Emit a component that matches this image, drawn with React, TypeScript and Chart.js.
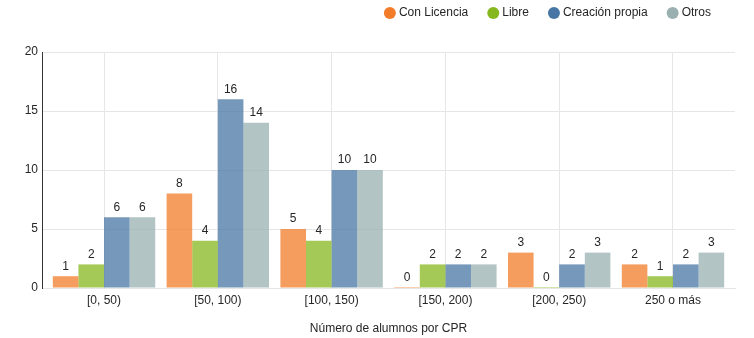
import { useEffect, useRef } from 'react';
import { Chart, registerables } from 'chart.js';

Chart.register(...registerables);

const categories = ['[0, 50)', '[50, 100)', '[100, 150)', '[150, 200)', '[200, 250)', '250 o más'];
const seriesNames = ['Con Licencia', 'Libre', 'Creación propia', 'Otros'];
const conLicencia = [1, 8, 5, 0, 3, 2];
const libre = [2, 4, 4, 2, 0, 1];
const creacionPropia = [6, 16, 10, 2, 2, 2];
const otros = [6, 14, 10, 2, 3, 3];
const yMax = 20;
const yStep = 5;
const xTitle = 'Número de alumnos por CPR';

const seriesColors = ['#f27c2a', '#86b71f', '#4876a4', '#9ab0b0'];
const FONT = 'Liberation Sans, Arial, sans-serif';
const TEXT = '#262626';
const GRID = '#e6e6e6';

function rgba(hex: string, a: number) {
  const n = parseInt(hex.slice(1), 16);
  return `rgba(${(n >> 16) & 255}, ${(n >> 8) & 255}, ${n & 255}, ${a})`;
}

const valueLabels = {
  id: 'valueLabels',
  afterDatasetsDraw(chart: any) {
    const ctx = chart.ctx;
    const yScale = chart.scales.y;
    ctx.save();
    ctx.font = `12px ${FONT}`;
    ctx.fillStyle = TEXT;
    ctx.textAlign = 'center';
    ctx.textBaseline = 'middle';
    chart.data.datasets.forEach((ds: any, i: number) => {
      const meta = chart.getDatasetMeta(i);
      meta.data.forEach((bar: any, j: number) => {
        const v = ds.data[j].y;
        ctx.fillText(String(v), bar.x, yScale.getPixelForValue(v) - 10);
      });
    });
    ctx.restore();
  },
};

const customLegend = {
  id: 'customLegend',
  afterDraw(chart: any) {
    const ctx = chart.ctx;
    ctx.save();
    ctx.font = `12px ${FONT}`;
    ctx.textBaseline = 'middle';
    ctx.textAlign = 'left';
    const y = 13;
    let right = 711;
    const items = chart.data.datasets.map((ds: any, i: number) => ({ label: ds.label, color: seriesColors[i] }));
    for (let k = items.length - 1; k >= 0; k--) {
      const it = items[k];
      const w = ctx.measureText(it.label).width;
      const textX = right - w;
      const cx = textX - 9;
      ctx.fillStyle = it.color;
      ctx.beginPath();
      ctx.arc(cx, y, 6, 0, Math.PI * 2);
      ctx.fill();
      ctx.fillStyle = TEXT;
      ctx.fillText(it.label, textX, y);
      right = cx - 25;
    }
    ctx.restore();
  },
};

export default function App() {
  const ref = useRef<HTMLCanvasElement | null>(null);

  useEffect(() => {
    if (!ref.current) return;
    const series = [conLicencia, libre, creacionPropia, otros];
    const chart = new Chart(ref.current, {
      type: 'bar',
      data: {
        datasets: series.map((vals, i) => ({
          label: seriesNames[i],
          data: vals.map((v, j) => ({ x: j, y: v })),
          backgroundColor: rgba(seriesColors[i], 0.75),
          borderWidth: 0,
          minBarLength: 1,
          categoryPercentage: 0.9,
          barPercentage: 1,
        })),
      },
      options: {
        responsive: false,
        animation: false,
        layout: { padding: { top: 52, right: 19, left: 0, bottom: 0 } },
        plugins: {
          legend: { display: false },
          tooltip: { enabled: false },
        },
        scales: {
          x: {
            type: 'linear',
            offset: false,
            min: -0.545,
            max: categories.length - 1 + 0.545,
            afterBuildTicks: (s: any) => {
              s.ticks = categories.map((_, i) => ({ value: i }));
            },
            afterFit: (s: any) => {
              s.height = 50;
            },
            ticks: {
              callback: (v: any) => categories[v] ?? '',
              font: { family: FONT, size: 12 },
              color: TEXT,
              padding: 5,
              maxRotation: 0,
              autoSkip: false,
            },
            grid: { color: GRID, drawTicks: false, offset: false },
            border: { color: GRID },
            title: {
              display: true,
              text: xTitle,
              font: { family: FONT, size: 12 },
              color: TEXT,
              padding: { top: 0, bottom: 2 },
            },
          },
          y: {
            min: 0,
            max: yMax,
            afterFit: (s: any) => {
              s.width = 42;
            },
            ticks: {
              stepSize: yStep,
              font: { family: FONT, size: 12 },
              color: TEXT,
              padding: 4,
            },
            grid: { color: GRID, drawTicks: false },
            border: { color: '#333333' },
          },
        },
      } as any,
      plugins: [valueLabels, customLegend],
    });
    return () => chart.destroy();
  }, []);

  return (
    <div style={{ position: 'absolute', left: 0, top: 0, width: 754, height: 338, background: '#fff' }}>
      <canvas ref={ref} width={754} height={338} style={{ display: 'block' }} />
    </div>
  );
}
